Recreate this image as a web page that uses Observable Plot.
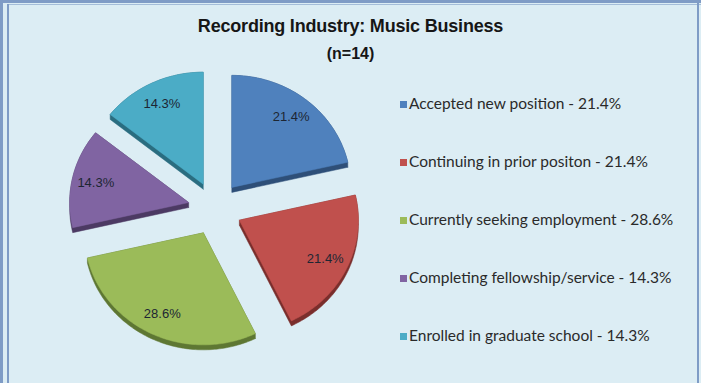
<!DOCTYPE html>
<html><head><meta charset="utf-8">
<script src="https://cdn.jsdelivr.net/npm/d3@7"></script>
<script src="https://cdn.jsdelivr.net/npm/@observablehq/plot@0.6"></script>
<style>
body{margin:0;background:#fff;}
#frame{position:relative;width:701px;height:383px;background:#dcedf4;overflow:hidden;}
#frame .bl{position:absolute;background:#7f9cc6;}
#title{position:absolute;left:0;width:701px;top:16px;text-align:center;font-family:"Liberation Sans",Arial,sans-serif;font-weight:bold;color:#161616;font-size:18px;letter-spacing:-0.2px;}
#sub{position:absolute;left:0;width:701px;top:45px;text-align:center;font-family:"Liberation Sans",Arial,sans-serif;font-weight:bold;color:#161616;font-size:16px;}
#chart{position:absolute;left:0;top:0;}
#legend{position:absolute;left:400px;top:0;font-family:Lato,"Open Sans",sans-serif;font-size:15.5px;color:#2a2a2a;}
#legend .it{position:absolute;left:0;white-space:nowrap;height:18px;line-height:18px;}
#legend .sw{display:inline-block;width:7px;height:7px;margin-right:2px;vertical-align:1px;}
</style></head><body>
<div id="frame">
  <div class="bl" style="left:0;top:0;width:701px;height:3px;"></div>
  <div class="bl" style="left:0;top:0;width:3px;height:383px;"></div>
  <div class="bl" style="left:7px;top:4px;width:2px;height:379px;"></div>
  <div class="bl" style="left:7px;top:4px;width:694px;height:1px;opacity:0.6"></div>
  <div class="bl" style="left:697px;top:0;width:2px;height:383px;"></div>
  <div id="chart"></div>
  <div id="title">Recording Industry: Music Business</div>
  <div id="sub">(n=14)</div>
  <div id="legend"></div>
</div>
<script>
const categories = [
  "Accepted new position",
  "Continuing in prior positon",
  "Currently seeking employment",
  "Completing fellowship/service",
  "Enrolled in graduate school"
];
const shares = [21.4, 21.4, 28.6, 14.3, 14.3];
const colors = ["#4f81bd", "#c0504d", "#9bbb59", "#8064a2", "#4bacc6"];
const sideColors = ["#2e4f78", "#7a2e2c", "#5e7733", "#4c3a63", "#2a6d80"];

// layout (pixels)
const W = 701, H = 383;
const cx = 214.5, cy = 208, Rx = 119, Ry = 112, explode = 27, depth = 5, labelR = 0.8;

const total = d3.sum(shares);
let cum = 0;
const slices = shares.map((v, i) => {
  const a0 = cum / total * 2 * Math.PI;
  cum += v;
  const a1 = cum / total * 2 * Math.PI;
  const am = (a0 + a1) / 2;
  const ox = cx + explode * Math.sin(am), oy = cy - explode * Math.cos(am);
  const pts = [[ox, oy]];
  const n = Math.max(8, Math.ceil((a1 - a0) / 0.02));
  for (let k = 0; k <= n; k++) {
    const a = a0 + (a1 - a0) * k / n;
    pts.push([ox + Rx * Math.sin(a), oy - Ry * Math.cos(a)]);
  }
  const hull = d3.polygonHull(pts.concat(pts.map(p => [p[0], p[1] + depth])));
  return {
    i, pts, hull,
    label: {x: ox + labelR * Rx * Math.sin(am), y: oy - labelR * Ry * Math.cos(am), text: v.toFixed(1) + "%"}
  };
});

const marks = [];
slices.forEach(s => {
  const side = s.hull.concat([s.hull[0]]).map(p => ({x: p[0], y: p[1]}));
  marks.push(Plot.line(side, {x: "x", y: "y", fill: sideColors[s.i], stroke: sideColors[s.i], strokeWidth: 0.5}));
});
slices.forEach(s => {
  const top = s.pts.concat([s.pts[0]]).map(p => ({x: p[0], y: p[1]}));
  marks.push(Plot.line(top, {x: "x", y: "y", fill: colors[s.i], stroke: colors[s.i], strokeWidth: 0.5}));
});
marks.push(Plot.text(slices.map(s => s.label), {
  x: "x", y: "y", text: "text", fill: "#1d2633", fontSize: 13,
  fontFamily: "'Liberation Sans',Arial,sans-serif"
}));

const chart = Plot.plot({
  width: W, height: H,
  margin: 0,
  x: {domain: [0, W], range: [0, W], axis: null},
  y: {domain: [0, H], range: [0, H], axis: null},
  style: {background: "transparent", overflow: "visible"},
  marks
});
document.getElementById("chart").appendChild(chart);

const legend = document.getElementById("legend");
const legendTop = 94, legendStep = 58;
categories.forEach((c, i) => {
  const d = document.createElement("div");
  d.className = "it";
  d.style.top = (legendTop + i * legendStep) + "px";
  d.innerHTML = `<span class="sw" style="background:${colors[i]}"></span>${c} - ${shares[i].toFixed(1)}%`;
  legend.appendChild(d);
});
</script>
</body></html>
